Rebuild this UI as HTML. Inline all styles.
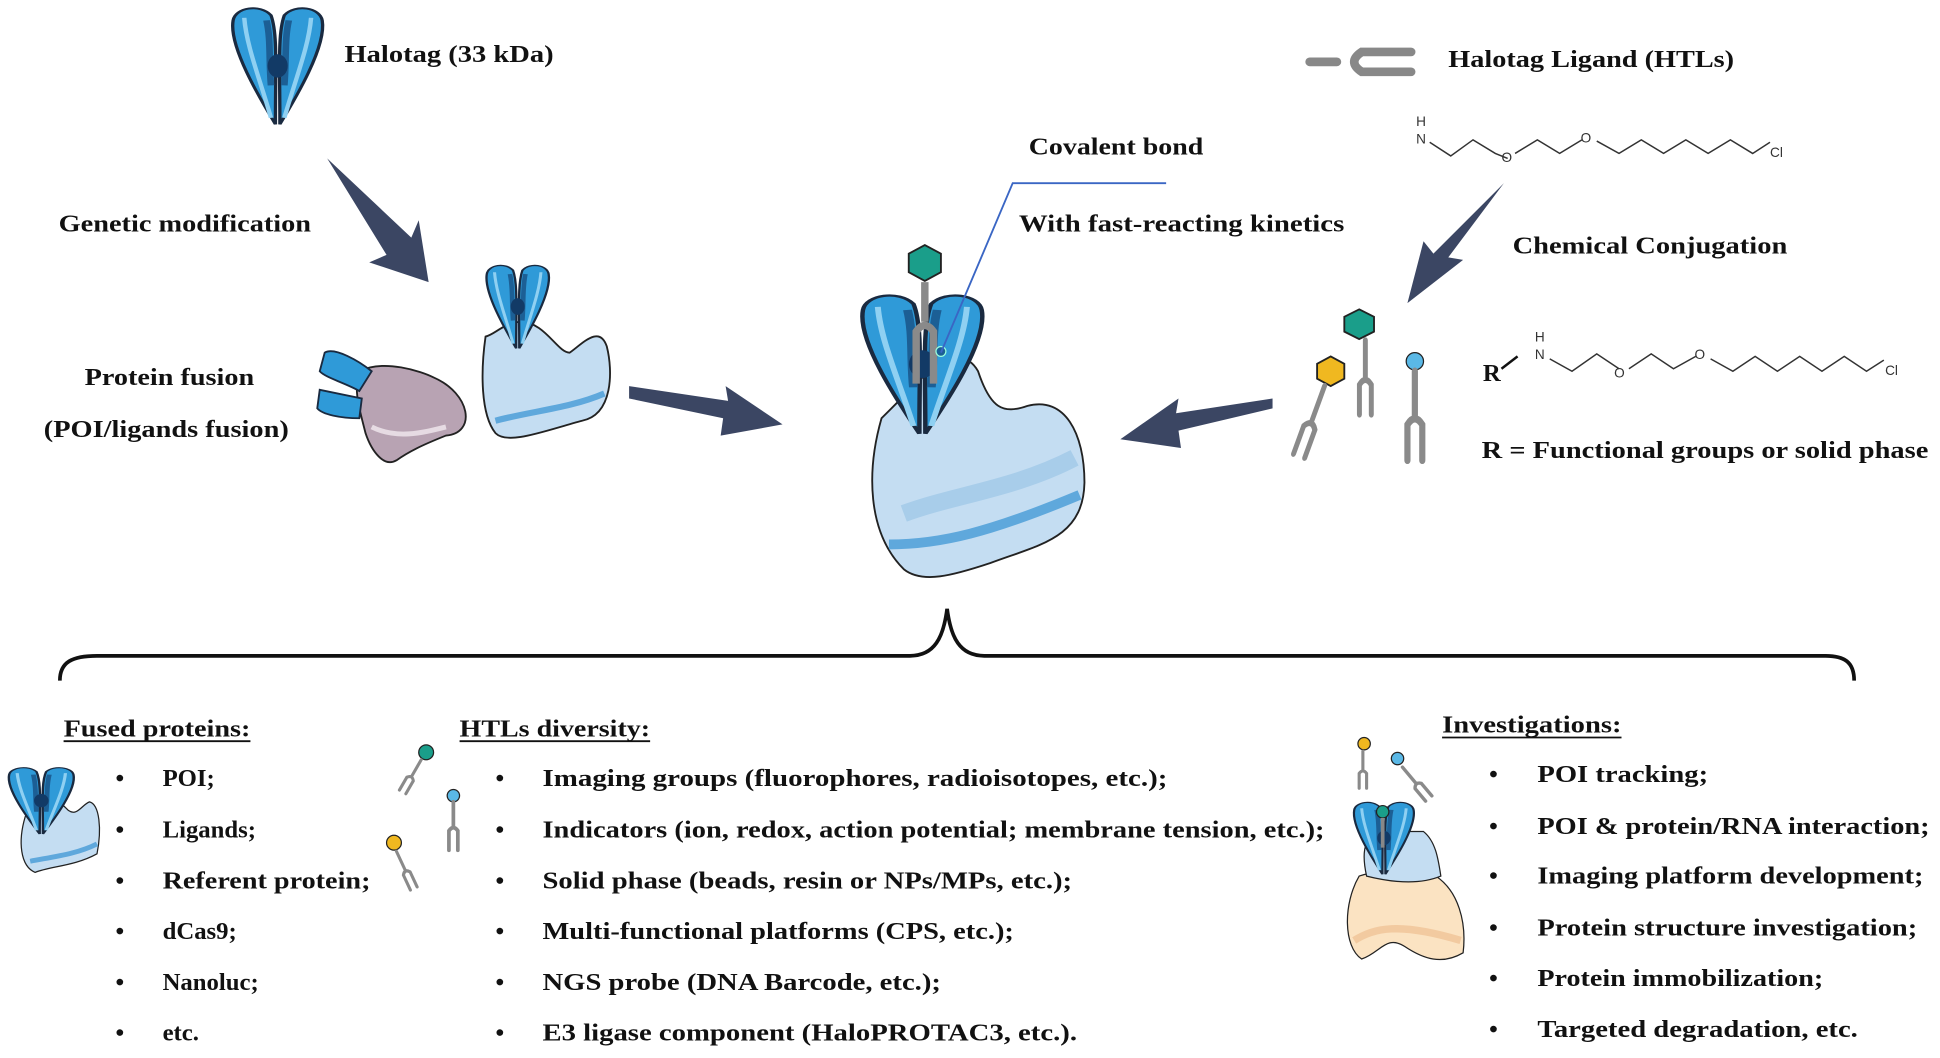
<!DOCTYPE html>
<html><head><meta charset="utf-8"><style>
html,body{margin:0;padding:0;background:#fff;}
svg{display:block;}
text{font-family:"Liberation Serif",serif;font-weight:bold;fill:#111;font-size:20px;}
.s{font-family:"Liberation Sans",sans-serif;font-weight:normal;font-size:11px;fill:#333;}
</style></head><body>
<svg width="1940" height="1058" viewBox="0 0 1567 855" xmlns="http://www.w3.org/2000/svg">
<defs>
<g id="ytag">
  <path d="M-1,90 C-8,70 -22,30 -20,10 C-19,0 -8,-3 -3,6 C0,20 -1,45 -1,90 Z" fill="#2f9ad8" stroke="#1a2a40" stroke-width="1.5"/>
  <path d="M1,90 C8,70 22,30 20,10 C19,0 8,-3 3,6 C0,20 1,45 1,90 Z" fill="#2f9ad8" stroke="#1a2a40" stroke-width="1.5"/>
  <path d="M-15,8 C-14,30 -8,55 -3,85" fill="none" stroke="#8fd0f2" stroke-width="2"/>
  <path d="M15,8 C14,30 8,55 3,85" fill="none" stroke="#8fd0f2" stroke-width="2"/>
  <path d="M-5,10 C-3,25 -4,40 -3,60 M5,10 C3,25 4,40 3,60" fill="none" stroke="#1c5f95" stroke-width="3"/>
  <ellipse cx="0" cy="45" rx="4.5" ry="9" fill="#123a66"/>
</g>
<g id="lig">
  <path d="M0,0 L0,30 M-6,60 L-6,36 Q0,28 6,36 L6,60" fill="none" stroke="#8a8a8a" stroke-width="5" stroke-linecap="round"/>
</g>
</defs>

<!-- top-left Halotag -->
<g transform="translate(224,6) scale(1.8,1.05)"><use href="#ytag"/></g>
<text x="278" y="50" textLength="169" lengthAdjust="spacingAndGlyphs">Halotag (33 kDa)</text>

<!-- arrows -->
<g fill="#3b4663">
<polygon points="264,128 332,192 338,178 346,228 298,212 312,206"/>
<polygon points="508,312 588,324 586,312 632,343 582,352 584,338 508,322"/>
<polygon points="1215,148 1170,208 1182,210 1137,245 1150,195 1158,205"/>
<polygon points="1028,322 950,334 952,322 905,355 954,362 952,348 1028,330"/>
</g>

<text x="47" y="187" textLength="204" lengthAdjust="spacingAndGlyphs">Genetic modification</text>
<text x="68" y="311" textLength="137" lengthAdjust="spacingAndGlyphs">Protein fusion</text>
<text x="35" y="353" textLength="198" lengthAdjust="spacingAndGlyphs">(POI/ligands fusion)</text>

<!-- purple fused protein -->
<path d="M290,300 C310,290 340,300 350,305 C380,318 385,350 360,352 C340,360 330,365 320,372 C310,378 300,365 295,350 C290,330 285,315 290,300 Z" fill="#b8a3b3" stroke="#222" stroke-width="1.5"/>
<path d="M300,345 C320,355 340,350 360,345" fill="none" stroke="#e6dbe3" stroke-width="4"/>
<path d="M262,285 C270,280 290,292 300,300 L290,316 C280,310 262,305 258,300 Z" fill="#2f9ad8" stroke="#1a2a40" stroke-width="1.5"/>
<path d="M258,315 L292,322 L290,338 C275,338 260,335 256,330 Z" fill="#2f9ad8" stroke="#1a2a40" stroke-width="1.5"/>

<!-- light-blue halotag protein -->
<path d="M392,272 C388,300 388,335 400,350 C410,360 440,348 470,340 C495,335 495,300 490,280 C484,262 470,278 460,285 C450,285 440,260 420,260 C405,262 400,270 392,272 Z" fill="#c4ddf2" stroke="#222" stroke-width="1.5"/>
<path d="M400,340 C430,332 460,330 488,318" fill="none" stroke="#5fa8dc" stroke-width="5"/>
<g transform="translate(418,214) scale(1.25,0.75)"><use href="#ytag"/></g>

<!-- central big protein -->
<path d="M712,338 C700,380 700,430 730,460 C745,472 770,465 800,455 C840,440 875,435 876,390 C876,350 860,320 830,328 C810,335 800,330 790,300 C780,282 760,290 750,300 C740,310 725,325 712,338 Z" fill="#c4ddf2" stroke="#222" stroke-width="1.5"/>
<path d="M718,440 C760,440 800,430 872,400" fill="none" stroke="#5fa8dc" stroke-width="8"/>
<path d="M730,415 C770,400 820,395 868,370" fill="none" stroke="#a8cdea" stroke-width="14"/>
<g transform="translate(745,238) scale(2.4,1.25)"><use href="#ytag"/></g>
<polygon points="747,198 760,205 760,220 747,227 734,220 734,205" fill="#1a9e8a" stroke="#222" stroke-width="1.5"/>
<path d="M747,228 L747,260 M740,310 L740,268 Q747,258 754,268 L754,310" fill="none" stroke="#8a8a8a" stroke-width="6"/>
<circle cx="760" cy="284" r="4" fill="#1c5f95" stroke="#9fd" stroke-width="1"/>
<polyline points="942,148 818,148 760,285" fill="none" stroke="#3a66c4" stroke-width="1.5"/>
<text x="831" y="125" textLength="141" lengthAdjust="spacingAndGlyphs">Covalent bond</text>
<text x="823" y="187" textLength="263" lengthAdjust="spacingAndGlyphs">With fast-reacting kinetics</text>

<!-- HTL icon -->
<path d="M1058,50 L1080,50 M1140,42 L1100,42 Q1088,50 1100,58 L1140,58" fill="none" stroke="#888" stroke-width="7" stroke-linecap="round"/>
<text x="1170" y="54" textLength="231" lengthAdjust="spacingAndGlyphs">Halotag Ligand (HTLs)</text>

<!-- chemical structure 1 -->
<text class="s" x="1144" y="102">H</text><text class="s" x="1144" y="116">N</text>
<polyline points="1155,115 1172,126 1190,113 1208,124 1218,128" fill="none" stroke="#333" stroke-width="1.2"/>
<text class="s" x="1213" y="131">O</text>
<polyline points="1224,124 1242,113 1260,124 1278,113" fill="none" stroke="#333" stroke-width="1.2"/>
<text class="s" x="1277" y="115">O</text>
<polyline points="1290,114 1308,124 1326,113 1344,124 1362,113 1380,124 1398,113 1416,124 1430,115" fill="none" stroke="#333" stroke-width="1.2"/>
<text class="s" x="1430" y="127">Cl</text>

<text x="1222" y="205" textLength="222" lengthAdjust="spacingAndGlyphs">Chemical Conjugation</text>

<!-- ligands cluster -->
<polygon points="1098,250 1110,256 1110,268 1098,274 1086,268 1086,256" fill="#1a9e8a" stroke="#222" stroke-width="1.5"/>
<g transform="translate(1103,275) scale(0.8,1)"><use href="#lig"/></g>
<polygon points="1075,288 1086,294 1086,306 1075,312 1064,306 1064,294" fill="#f0b820" stroke="#222" stroke-width="1.5"/>
<g transform="translate(1070,312) rotate(20) scale(0.8,1)"><use href="#lig"/></g>
<circle cx="1143" cy="292" r="7" fill="#5ab8e6" stroke="#222" stroke-width="1"/>
<g transform="translate(1143,300) scale(1,1.2)"><use href="#lig"/></g>

<!-- chemical structure 2 -->
<text x="1198" y="308">R</text>
<line x1="1213" y1="298" x2="1226" y2="288" stroke="#111" stroke-width="2"/>
<text class="s" x="1240" y="276">H</text><text class="s" x="1240" y="290">N</text>
<polyline points="1252,290 1270,300 1290,286 1308,298" fill="none" stroke="#333" stroke-width="1.2"/>
<text class="s" x="1304" y="305">O</text>
<polyline points="1316,298 1334,286 1352,298 1370,288" fill="none" stroke="#333" stroke-width="1.2"/>
<text class="s" x="1369" y="290">O</text>
<polyline points="1382,290 1400,300 1418,288 1436,300 1454,288 1472,300 1490,288 1508,300 1522,291" fill="none" stroke="#333" stroke-width="1.2"/>
<text class="s" x="1523" y="303">Cl</text>
<text x="1197" y="370" textLength="361" lengthAdjust="spacingAndGlyphs">R = Functional groups or solid phase</text>

<!-- brace -->
<path d="M48,550 C48,535 58,530 78,530 L735,530 C755,530 762,515 765,492 C768,515 775,530 795,530 L1475,530 C1490,530 1498,535 1498,550" fill="none" stroke="#111" stroke-width="3"/>

<!-- bottom headers -->
<text x="51" y="595" textLength="151" lengthAdjust="spacingAndGlyphs">Fused proteins:</text><line x1="51" y1="599" x2="202" y2="599" stroke="#111" stroke-width="1.5"/>
<text x="371" y="595" textLength="154" lengthAdjust="spacingAndGlyphs">HTLs diversity:</text><line x1="371" y1="599" x2="525" y2="599" stroke="#111" stroke-width="1.5"/>
<text x="1165" y="592" textLength="145" lengthAdjust="spacingAndGlyphs">Investigations:</text><line x1="1165" y1="596" x2="1310" y2="596" stroke="#111" stroke-width="1.5"/>

<!-- left icon -->
<path d="M20,660 C14,680 16,700 28,705 C40,700 60,700 78,690 C82,670 80,650 72,648 C66,650 62,660 55,655 C50,650 40,640 30,645 Z" fill="#c4ddf2" stroke="#222" stroke-width="1"/>
<path d="M24,696 C45,692 62,690 78,682" fill="none" stroke="#5fa8dc" stroke-width="4"/>
<g transform="translate(33,620) scale(1.3,0.6)"><use href="#ytag"/></g>

<!-- middle icons -->
<circle cx="344" cy="608" r="6" fill="#1a9e8a" stroke="#222"/>
<g transform="translate(340,614) rotate(30) scale(0.5,0.5)"><use href="#lig"/></g>
<circle cx="366" cy="643" r="5" fill="#5ab8e6" stroke="#222"/>
<g transform="translate(366,648) scale(0.6,0.65)"><use href="#lig"/></g>
<circle cx="318" cy="681" r="6" fill="#f0b820" stroke="#222"/>
<g transform="translate(320,688) rotate(-25) scale(0.5,0.55)"><use href="#lig"/></g>

<!-- right icons -->
<circle cx="1102" cy="601" r="5" fill="#f0b820" stroke="#222"/>
<g transform="translate(1101,607) scale(0.5,0.5)"><use href="#lig"/></g>
<circle cx="1129" cy="613" r="5" fill="#5ab8e6" stroke="#222"/>
<g transform="translate(1133,620) rotate(-40) scale(0.55,0.55)"><use href="#lig"/></g>
<path d="M1098,708 C1085,730 1085,765 1100,775 C1115,770 1120,755 1135,765 C1150,775 1165,780 1182,770 C1185,745 1178,720 1160,708 C1140,710 1120,700 1098,708 Z" fill="#fbe3c2" stroke="#222" stroke-width="1"/>
<path d="M1094,760 C1110,750 1130,745 1180,760" fill="none" stroke="#f2caa0" stroke-width="6"/>
<path d="M1104,708 C1100,690 1102,680 1110,672 L1150,672 C1160,680 1162,695 1164,708 C1145,716 1120,712 1104,708 Z" fill="#c4ddf2" stroke="#222" stroke-width="1"/>
<g transform="translate(1118,648) scale(1.2,0.65)"><use href="#ytag"/></g>
<circle cx="1117" cy="656" r="5" fill="#1a9e8a" stroke="#222"/>
<line x1="1117" y1="661" x2="1117" y2="685" stroke="#888" stroke-width="3"/>

<!-- bullets left -->
<g>
<text x="93" y="635">•</text><text x="131" y="635">POI;</text>
<text x="93" y="677">•</text><text x="131" y="677">Ligands;</text>
<text x="93" y="718">•</text><text x="131" y="718" textLength="168" lengthAdjust="spacingAndGlyphs">Referent protein;</text>
<text x="93" y="759">•</text><text x="131" y="759">dCas9;</text>
<text x="93" y="800">•</text><text x="131" y="800">Nanoluc;</text>
<text x="93" y="841">•</text><text x="131" y="841">etc.</text>
</g>
<g>
<text x="400" y="635">•</text><text x="438" y="635" textLength="505" lengthAdjust="spacingAndGlyphs">Imaging groups (fluorophores,  radioisotopes, etc.);</text>
<text x="400" y="677">•</text><text x="438" y="677" textLength="632" lengthAdjust="spacingAndGlyphs">Indicators (ion, redox, action potential; membrane tension, etc.);</text>
<text x="400" y="718">•</text><text x="438" y="718" textLength="428" lengthAdjust="spacingAndGlyphs">Solid phase (beads, resin or NPs/MPs, etc.);</text>
<text x="400" y="759">•</text><text x="438" y="759" textLength="381" lengthAdjust="spacingAndGlyphs">Multi-functional platforms (CPS, etc.);</text>
<text x="400" y="800">•</text><text x="438" y="800" textLength="322" lengthAdjust="spacingAndGlyphs">NGS probe (DNA Barcode, etc.);</text>
<text x="400" y="841">•</text><text x="438" y="841" textLength="432" lengthAdjust="spacingAndGlyphs">E3 ligase component (HaloPROTAC3, etc.).</text>
</g>
<g>
<text x="1203" y="632">•</text><text x="1242" y="632" textLength="138" lengthAdjust="spacingAndGlyphs">POI tracking;</text>
<text x="1203" y="674">•</text><text x="1242" y="674" textLength="317" lengthAdjust="spacingAndGlyphs">POI &amp; protein/RNA interaction;</text>
<text x="1203" y="714">•</text><text x="1242" y="714" textLength="312" lengthAdjust="spacingAndGlyphs">Imaging platform development;</text>
<text x="1203" y="756">•</text><text x="1242" y="756" textLength="307" lengthAdjust="spacingAndGlyphs">Protein structure investigation;</text>
<text x="1203" y="797">•</text><text x="1242" y="797" textLength="231" lengthAdjust="spacingAndGlyphs">Protein immobilization;</text>
<text x="1203" y="838">•</text><text x="1242" y="838" textLength="259" lengthAdjust="spacingAndGlyphs">Targeted degradation, etc.</text>
</g>
</svg>
</body></html>
